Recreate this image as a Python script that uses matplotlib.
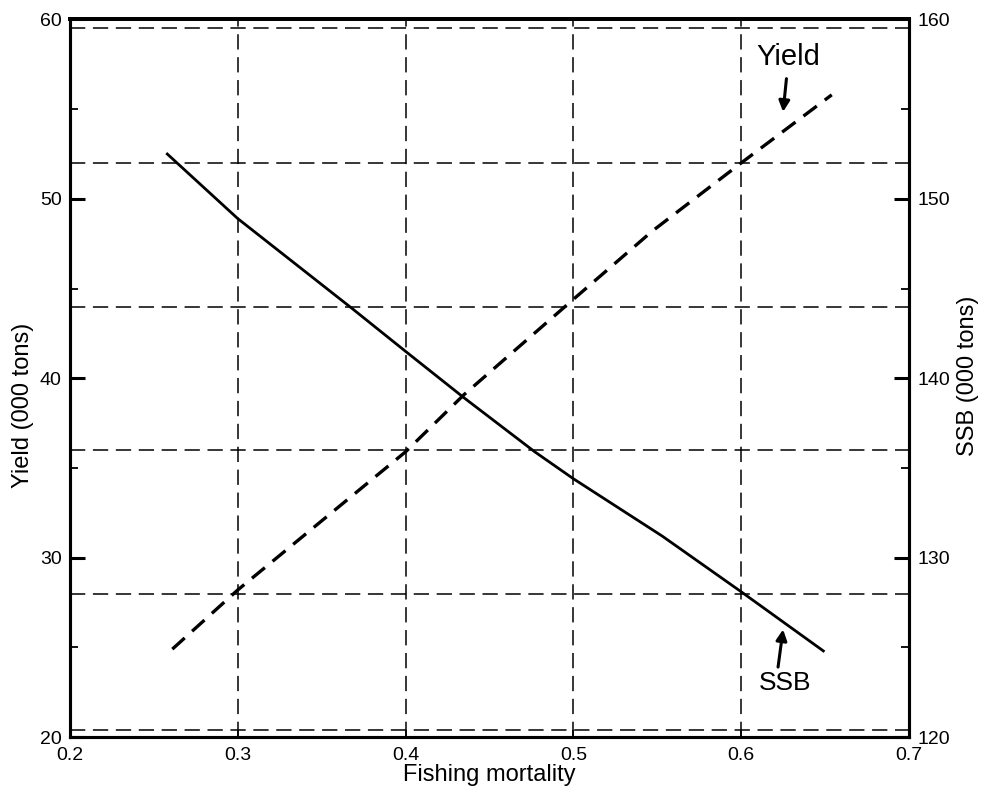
import matplotlib.pyplot as plt

# Yield and spawning stock biomass against fishing mortality
f_yield = [0.261, 0.30, 0.40, 0.435, 0.50, 0.547, 0.60, 0.654]
yield_kt = [24.9, 28.2, 35.9, 39.1, 44.4, 48.2, 52.0, 55.8]

f_ssb = [0.258, 0.30, 0.368, 0.40, 0.435, 0.477, 0.50, 0.553, 0.60, 0.649]
ssb_kt = [152.5, 148.9, 143.9, 141.5, 138.9, 135.9, 134.4, 131.2, 128.1, 124.8]

# reference lines
f_grid = [0.3, 0.4, 0.5, 0.6]
ssb_grid = [120.4, 128, 136, 144, 152, 159.5]

# ticks
x_ticks = [0.2, 0.3, 0.4, 0.5, 0.6, 0.7]
yield_ticks = [20, 30, 40, 50, 60]
yield_minor = [25, 35, 45, 55]
ssb_ticks = [120, 130, 140, 150, 160]
ssb_minor = [125, 135, 145, 155]

plt.rcParams['font.family'] = ['Liberation Sans', 'DejaVu Sans']

fig = plt.figure(figsize=(9.87, 7.92), dpi=100)
ax = fig.add_axes([0.0709, 0.0694, 0.850, 0.906])
ax2 = ax.twinx()

ax.set_xlim(0.2, 0.7)
ax.set_ylim(20, 60)
ax2.set_ylim(120, 160)

# dashed grid
for f in f_grid:
    ax.axvline(f, color='black', lw=1.1, ls=(0, (10, 5)), zorder=1)
for s in ssb_grid:
    ax2.axhline(s, color='black', lw=1.1, ls=(0, (10, 5)), zorder=1)

# curves
ax.plot(f_yield, yield_kt, color='black', lw=2.4, ls=(0, (5, 3)), zorder=3)
ax2.plot(f_ssb, ssb_kt, color='black', lw=2.0, zorder=3)

# axes and ticks
ax.set_xticks(x_ticks)
ax.set_xticklabels([f'{v:.1f}' for v in x_ticks])
ax.set_yticks(yield_ticks)
ax.set_yticks(yield_minor, minor=True)
ax2.set_yticks(ssb_ticks)
ax2.set_yticks(ssb_minor, minor=True)

ax.tick_params(axis='x', direction='in', length=5, width=1.2,
               labelsize=14, pad=7, top=False)
ax.tick_params(axis='y', direction='in', length=11, width=2.2,
               labelsize=14, pad=6)
ax.tick_params(axis='y', which='minor', direction='in', length=6, width=1.3)
ax2.tick_params(axis='y', direction='in', length=11, width=2.2,
                labelsize=14, pad=6)
ax2.tick_params(axis='y', which='minor', direction='in', length=6, width=1.3)

for a in (ax, ax2):
    for side in ['left', 'right', 'bottom']:
        a.spines[side].set_linewidth(2.2)
    a.spines['top'].set_linewidth(2.8)

ax.set_xlabel('Fishing mortality', fontsize=17)
ax.set_ylabel('Yield (000 tons)', fontsize=17)
ax2.set_ylabel('SSB (000 tons)', fontsize=17)
ax.xaxis.set_label_coords(0.5, -0.037)
ax.yaxis.set_label_coords(-0.043, 0.462)
ax2.yaxis.set_label_coords(1.057, 0.504)

# curve labels with arrows
arrow = dict(arrowstyle='-|>', lw=2.2, color='black',
             mutation_scale=16, shrinkA=0, shrinkB=0)
ax.annotate('', xy=(0.625, 54.85), xytext=(0.627, 56.7), arrowprops=arrow)
ax.text(0.628, 57.9, 'Yield', ha='center', va='center', fontsize=21)
ax.annotate('', xy=(0.625, 26.0), xytext=(0.622, 23.9), arrowprops=arrow)
ax.text(0.626, 23.0, 'SSB', ha='center', va='center', fontsize=19)

fig.savefig('out.png', dpi=100)
